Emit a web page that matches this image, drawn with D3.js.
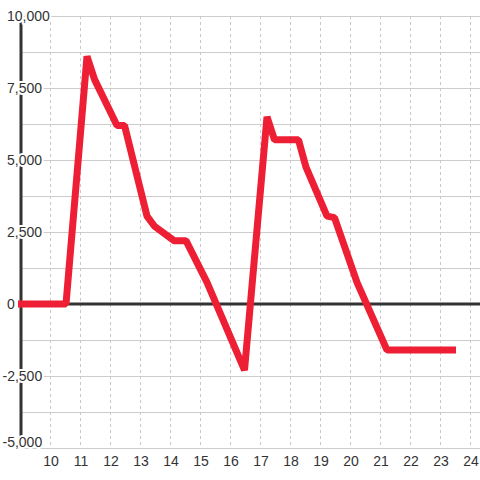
<!DOCTYPE html>
<meta charset="utf-8">
<style>
body { margin: 0; background: #fff; }
.grid line { stroke: #ccc; stroke-width: 1px; shape-rendering: crispEdges; }
.vgrid line { stroke: #c8c8c8; stroke-width: 1px; stroke-dasharray: 3,3; shape-rendering: crispEdges; }
.lbl { font-family: "Liberation Sans", Arial, sans-serif; font-size: 14px; fill: #333; }
.ylbl { stroke: #fff; stroke-width: 4px; paint-order: stroke; stroke-linejoin: round; }
</style>
<svg width="480" height="480"></svg>
<script src="https://d3js.org/d3.v7.min.js"></script>
<script>

// data
var xVals = [8.9, 10.5, 11.2, 11.45, 12.2, 12.45, 13.2, 13.45, 14.1, 14.5, 15.2, 16.45, 17.2, 17.45, 18.25, 18.5, 19.2, 19.45, 20.2, 21.2, 23.5];
var yVals = [0, 0, 8600, 7800, 6200, 6200, 3050, 2700, 2200, 2200, 750, -2300, 6500, 5700, 5700, 4750, 3050, 3000, 750, -1600, -1600];
var xTicks = [10, 11, 12, 13, 14, 15, 16, 17, 18, 19, 20, 21, 22, 23, 24];
var yGrid = [-5000, -3750, -2500, -1250, 0, 1250, 2500, 3750, 5000, 6250, 7500, 8750, 10000];
var yTicks = [-5000, -2500, 0, 2500, 5000, 7500, 10000];

var svg = d3.select("svg"),
    width = +svg.attr("width"),
    height = +svg.attr("height");

var x = d3.scaleLinear().domain([10, 24]).range([51, 471]);
var y = d3.scaleLinear().domain([-5000, 10000]).range([448, 16]);
var axisX = 21;
var fmt = d3.format(",");

// horizontal grid
svg.append("g").attr("class", "grid")
  .selectAll("line").data(yGrid).enter().append("line")
    .attr("x1", axisX).attr("x2", width)
    .attr("y1", function(d) { return Math.round(y(d)) + 0.5; })
    .attr("y2", function(d) { return Math.round(y(d)) + 0.5; });

// vertical dashed grid
svg.append("g").attr("class", "vgrid")
  .selectAll("line").data(xTicks).enter().append("line")
    .attr("x1", function(d) { return Math.round(x(d)) - 0.5; })
    .attr("x2", function(d) { return Math.round(x(d)) - 0.5; })
    .attr("y1", y(10000)).attr("y2", y(-5000));

// zero line + y axis line
svg.append("line")
  .attr("x1", axisX - 1).attr("x2", width)
  .attr("y1", y(0)).attr("y2", y(0))
  .attr("stroke", "#333").attr("stroke-width", 3);
svg.append("line")
  .attr("x1", axisX).attr("x2", axisX)
  .attr("y1", y(10000)).attr("y2", y(-5000))
  .attr("stroke", "#333").attr("stroke-width", 3);

// y labels (white halo knocks out the axis line)
svg.append("g").selectAll("text").data(yTicks).enter().append("text")
  .attr("class", "lbl ylbl")
  .attr("x", function(d) { return d < 0 ? 2.5 : 7; })
  .attr("y", function(d) { return y(d); })
  .attr("dy", function(d) { return d === -5000 ? "-0.1em" : "0.35em"; })
  .text(function(d) { return fmt(d).replace("−", "-"); });

// x labels
svg.append("g").selectAll("text").data(xTicks).enter().append("text")
  .attr("class", "lbl")
  .attr("text-anchor", "middle")
  .attr("x", function(d) { return x(d); })
  .attr("y", 466)
  .text(function(d) { return d; });

// the series
var pts = d3.zip(xVals, yVals);
var line = d3.line()
  .x(function(d) { return x(d[0]); })
  .y(function(d) { return y(d[1]); });

svg.append("path")
  .datum(pts)
  .attr("d", line)
  .attr("fill", "none")
  .attr("stroke", "#ee1f35")
  .attr("stroke-width", 7)
  .attr("stroke-linejoin", "bevel");
</script>
